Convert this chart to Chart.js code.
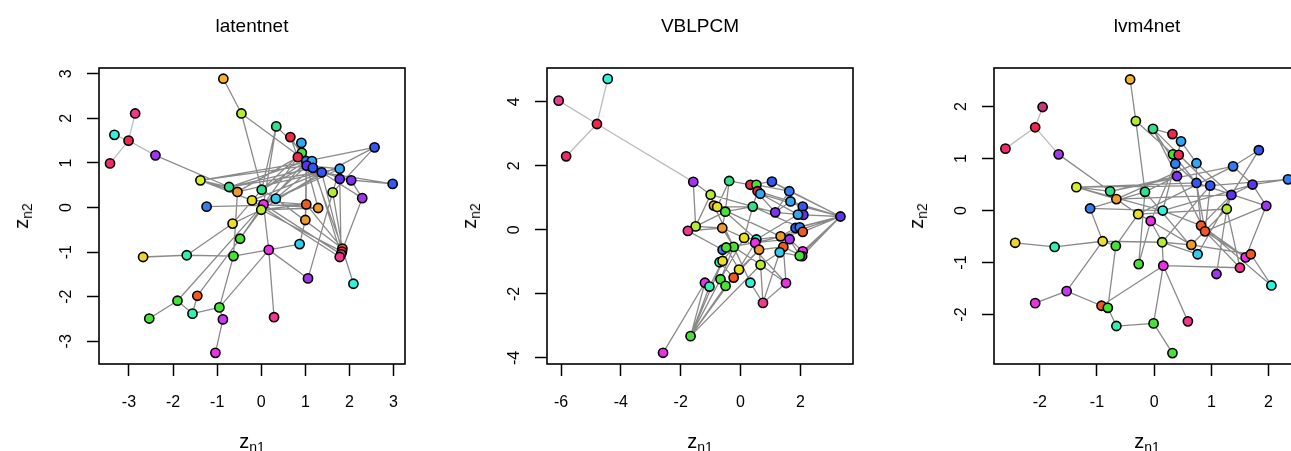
<!DOCTYPE html>
<html>
<head>
<meta charset="utf-8">
<script src="https://cdn.jsdelivr.net/npm/chart.js@4.4.1/dist/chart.umd.min.js"></script>
<style>
  html, body { margin: 0; padding: 0; background: #fff; }
  body { width: 1291px; height: 451px; overflow: hidden; position: relative;
         font-family: 'Liberation Sans', Arial, sans-serif; }
  canvas { position: absolute; top: 0; }
  .lbl { position: absolute; white-space: nowrap; color: #000; line-height: 1;
         transform: translate(-50%, -50%); }
  .main { font-size: 19px; }
  .axt { font-size: 20px; }
  .axt sub { font-size: 14px; line-height: 0; vertical-align: -4px; }
  .rot { transform: translate(-50%, -50%) rotate(-90deg); }
</style>
</head>
<body>
<canvas id="c1" width="420" height="451" style="left:0px"></canvas>
<canvas id="c2" width="420" height="451" style="left:448px"></canvas>
<canvas id="c3" width="420" height="451" style="left:895px"></canvas>
<script>
const FONT = "'Liberation Sans', Arial, sans-serif";

const titles = ['latentnet', 'VBLPCM', 'lvm4net'];

// tick values per panel
const xTicks1 = [-3, -2, -1, 0, 1, 2, 3];
const yTicks1 = [-3, -2, -1, 0, 1, 2, 3];
const xTicks2 = [-6, -4, -2, 0, 2];
const yTicks2 = [-4, -2, 0, 2, 4];
const xTicks3 = [-2, -1, 0, 1, 2];
const yTicks3 = [-2, -1, 0, 1, 2];

// node colours
const PAL = {
  gold: '#F5B32A', gold2: '#F2D22C', ygreen: '#B4EC30', chart: '#D6F021', yellow: '#E9E021',
  pink: '#F2388A', pinkred: '#EE2D68', red: '#F2284A', dmag: '#C8367C',
  cyan: '#30F2DA', sky: '#30CCF2', lblue: '#33A6F2', azure: '#2F7EF2', blue: '#3357F2',
  indigo: '#5C33F0', violet: '#8033F0', purple: '#A236EE', pmag: '#C83AF0', mag: '#EC30E8',
  teal: '#2EE28A', mteal: '#30F0B4', green: '#46E236', orng: '#F09A2C', ored: '#F05A20'
};

// ---- latentnet
const x1 = [-0.86,-0.45,-2.86,-3.33,-3.01,-3.43,-2.40,0.34,0.66,0.91,
  0.92,0.83,1.02,1.15,1.03,1.17,1.37,1.78,1.78,2.04,
  2.57,2.98,2.29,1.62,-1.38,-0.73,-0.54,0.01,-0.21,0.33,
  0.05,0.00,-1.24,1.02,1.29,1.00,-0.65,-0.48,0.87,0.17,
  -1.69,-0.63,-2.68,1.84,1.83,1.81,1.78,1.06,2.09,-1.45,
  -1.90,-0.95,-1.56,-2.54,-0.87,0.29,-1.04];
const y1 = [2.89,2.11,2.11,1.63,1.50,0.99,1.17,1.82,1.58,1.45,
  1.23,1.13,1.04,1.04,0.94,0.89,0.79,0.87,0.64,0.61,
  1.35,0.53,0.21,0.34,0.61,0.46,0.35,0.40,0.16,0.20,
  0.07,-0.05,0.02,0.07,-0.01,-0.28,-0.36,-0.70,-0.82,-0.95,
  -1.07,-1.09,-1.11,-0.92,-0.99,-1.05,-1.11,-1.59,-1.71,-1.98,
  -2.09,-2.24,-2.38,-2.49,-2.51,-2.46,-3.26];
const c1 = ['gold','ygreen','pink','cyan','red','pinkred','purple','teal','red','lblue',
  'green','red','azure','lblue','indigo','blue','blue','lblue','indigo','violet',
  'blue','blue','purple','ygreen','chart','teal','orng','teal','yellow','sky',
  'mag','ygreen','azure','ored','orng','orng','yellow','green','sky','mag',
  'mteal','green','gold2','ored','red','pink','pink','purple','cyan','ored',
  'green','green','mteal','green','pmag','pink','mag'];
const edges1 = [[1,2],[2,28],[2,13],[7,26],[25,26],[25,27],[25,29],[26,13],[26,16],[27,17],
  [25,15],[25,14],[8,28],[8,31],[8,14],[9,13],[10,15],[11,16],[12,31],[21,13],
  [21,24],[21,30],[22,19],[22,17],[23,17],[23,47],[24,48],[24,44],[24,18],[33,34],
  [37,41],[37,28],[41,43],[41,42],[42,40],[42,27],[42,52],[38,31],[38,50],[40,56],
  [40,48],[40,39],[40,52],[40,31],[50,53],[51,53],[53,52],[51,54],[55,57],[52,55],
  [51,31],[49,44],[39,36],[36,34],[36,13],[34,13],[34,44],[34,32],[35,15],[35,32],
  [32,45],[31,46],[30,44],[29,47],[32,13],[31,14],[30,16],[28,13],[28,15],[29,17],
  [32,17],[30,18],[20,23],[18,26],[19,46],[28,30],[29,34],[31,35],[12,27],[11,28],
  [16,44],[17,45],[14,46],[19,13],[15,18],[17,20],[10,13],[9,12],[32,37],[38,32]];
const faint1 = [[3,5],[4,5],[6,5],[5,7]];

// ---- VBLPCM
const x2 = [-4.44,-6.08,-4.80,-5.83,-1.58,-0.38,0.33,0.53,0.57,0.66,
  1.05,1.63,1.67,2.08,2.10,1.92,3.34,1.16,0.41,-1.00,
  -0.89,-0.78,-0.51,-1.50,-1.76,-0.61,0.12,0.53,0.49,0.62,
  1.34,1.64,1.43,1.31,1.84,1.98,2.08,2.08,2.06,1.98,
  -0.23,-0.60,-0.48,-0.70,-0.60,-0.05,-0.23,0.67,-1.19,-1.04,
  -0.67,-0.50,0.33,1.52,0.75,-1.67,-2.59];
const y2 = [4.72,4.04,3.31,2.30,1.50,1.53,1.41,1.41,1.21,1.13,
  1.51,1.21,0.89,0.73,0.47,0.48,0.42,0.55,0.73,1.10,
  0.76,0.72,0.57,0.11,-0.03,0.06,-0.25,-0.30,-0.40,-0.62,
  -0.20,-0.29,-0.53,-0.70,0.06,0.08,-0.06,-0.67,-0.82,-0.81,
  -0.53,-0.62,-0.55,-1.01,-0.97,-1.24,-1.49,-1.09,-1.65,-1.77,
  -1.54,-1.75,-1.65,-1.66,-2.28,-3.32,-3.84];
const c2 = ['cyan','pink','red','pinkred','purple','teal','red','green','red','lblue',
  'blue','azure','lblue','blue','indigo','lblue','indigo','violet','teal','ygreen',
  'orng','yellow','green','ygreen','pink','orng','yellow','cyan','mag','orng',
  'orng','purple','ored','sky','blue','azure','ored','mag','purple','green',
  'green','azure','green','mteal','yellow','yellow','ored','ygreen','mag','mteal',
  'green','green','cyan','mag','pink','green','mag'];
const edges2 = [[5,20],[5,24],[6,7],[6,23],[6,22],[17,11],[17,12],[17,14],[17,15],[17,35],
  [17,37],[17,38],[17,39],[17,40],[17,13],[17,31],[17,36],[11,12],[11,7],[24,20],
  [24,25],[24,26],[24,23],[25,42],[56,49],[56,50],[56,51],[56,52],[56,46],[56,48],
  [56,45],[57,49],[55,53],[55,48],[55,54],[55,34],[53,41],[20,21],[21,22],[22,19],
  [19,9],[19,18],[18,12],[18,13],[26,27],[26,41],[27,28],[28,31],[29,32],[30,33],
  [31,35],[32,38],[33,39],[34,40],[41,48],[42,45],[43,46],[44,47],[46,30],[47,29],
  [48,34],[49,50],[51,27],[52,30],[23,19],[23,28],[21,41],[22,31],[19,36],[10,14],
  [10,16],[8,12],[9,13],[7,18],[27,54],[48,54],[54,33],[30,48],[41,42],[26,23],
  [45,41],[29,37],[28,16],[19,27],[12,13],[14,16],[35,36],[15,18],[32,40],[36,37],
  [25,26],[20,19],[22,23],[43,29],[50,45],[51,41]];
const faint2 = [[1,3],[2,3],[4,3],[3,5]];

// ---- lvm4net
const x3 = [-0.42,-0.32,-1.95,-2.08,-2.60,-1.67,-0.02,0.32,0.47,0.33,
  0.43,0.37,0.74,1.38,1.83,2.34,0.40,0.74,0.98,1.72,
  1.35,1.96,1.27,-1.36,-0.77,-0.66,-0.16,-1.12,-0.28,0.15,
  -0.06,0.82,0.89,0.65,0.76,0.14,-0.90,-0.67,-1.74,-2.43,
  -0.27,0.16,1.09,1.50,1.60,1.69,2.05,-1.53,-2.08,-0.92,
  -0.81,-0.66,-0.01,0.59,0.32];
const y3 = [2.52,1.72,1.99,1.60,1.19,1.08,1.57,1.47,1.33,1.08,
  1.07,0.90,0.91,0.85,1.16,0.60,0.66,0.53,0.48,0.50,
  0.30,0.09,0.03,0.45,0.37,0.22,0.36,0.04,-0.07,0.00,
  -0.20,-0.29,-0.40,-0.66,-0.84,-0.61,-0.59,-0.68,-0.70,-0.62,
  -1.03,-1.06,-1.22,-1.10,-0.90,-0.84,-1.44,-1.55,-1.78,-1.83,
  -1.87,-2.22,-2.17,-2.13,-2.74];
const c3 = ['gold','ygreen','dmag','red','pinkred','purple','teal','red','lblue','green',
  'red','azure','lblue','azure','blue','azure','violet','blue','blue','indigo',
  'indigo','purple','ygreen','chart','teal','orng','teal','azure','yellow','cyan',
  'mag','ored','ored','orng','sky','ygreen','yellow','green','mteal','gold2',
  'green','mag','purple','pink','mag','ored','cyan','pmag','mag','ored',
  'green','mteal','green','pink','green'];
const edges3 = [[1,2],[2,27],[6,25],[24,25],[24,26],[24,18],[24,19],[28,27],[28,30],[7,8],
  [7,33],[7,12],[15,14],[15,21],[16,19],[16,20],[22,20],[22,45],[23,43],[23,44],
  [47,46],[47,32],[40,39],[39,37],[37,38],[37,48],[48,49],[48,50],[50,51],[51,52],
  [52,53],[53,55],[53,42],[42,54],[42,36],[42,50],[38,51],[41,31],[36,35],[36,34],
  [36,37],[29,31],[31,36],[29,26],[30,32],[27,35],[42,44],[32,45],[33,45],[33,44],
  [8,9],[9,13],[10,18],[11,19],[12,17],[13,18],[14,20],[17,27],[18,32],[19,33],
  [20,21],[21,23],[25,14],[26,13],[27,41],[29,23],[30,20],[31,34],[32,21],[33,22],
  [34,23],[35,21],[38,29],[2,10],[7,19],[12,18],[24,30],[25,17],[26,21],[28,37],
  [36,19],[34,46],[41,27],[29,14],[30,9],[31,12],[18,22],[18,33],[13,21]];
const faint3 = [[3,4],[4,5],[4,6]];

// draw the R style box round the plot region
const boxPlugin = {
  id: 'plotBox',
  afterDraw(chart) {
    const a = chart.chartArea, ctx = chart.ctx;
    ctx.save();
    ctx.strokeStyle = '#000';
    ctx.lineWidth = 1.6;
    ctx.strokeRect(a.left, a.top, a.right - a.left, a.bottom - a.top);
    ctx.restore();
  }
};

function segs(pts, list) {
  const out = [];
  list.forEach(([a, b]) => { out.push(pts[a - 1], pts[b - 1], {x: null, y: null}); });
  return out;
}

function axis(range, ticks, vertical) {
  return {
    type: 'linear',
    min: range[0],
    max: range[1],
    afterBuildTicks: s => { s.ticks = ticks.map(v => ({value: v})); },
    afterFit: s => { if (vertical) s.width = 99; else s.height = 87; },
    border: { display: false },
    grid: { drawOnChartArea: false, drawTicks: true, tickLength: 12, tickWidth: 1.5, tickColor: '#000' },
    ticks: {
      color: '#000',
      font: { family: FONT, size: 16 },
      autoSkip: false,
      padding: vertical ? 13 : 17,
      minRotation: vertical ? 90 : 0,
      maxRotation: vertical ? 90 : 0,
      crossAlign: vertical ? 'center' : 'near',
      callback: v => String(v)
    }
  };
}

function addText(html, x, y, cls) {
  const d = document.createElement('div');
  d.className = 'lbl ' + cls;
  d.innerHTML = html;
  d.style.left = x + 'px';
  d.style.top = y + 'px';
  document.body.appendChild(d);
}

function panel(id, offset, title, xs, ys, cols, edges, faint, xr, yr, xt, yt) {
  const pts = xs.map((x, i) => ({x: x, y: ys[i]}));
  const chart = new Chart(document.getElementById(id), {
    type: 'scatter',
    data: {
      datasets: [
        {
          data: pts,
          pointRadius: 4.6,
          pointBackgroundColor: cols.map(k => PAL[k]),
          pointBorderColor: '#000',
          pointBorderWidth: 1.6,
          clip: false,
          order: 0
        },
        {
          type: 'line',
          data: segs(pts, edges),
          borderColor: 'rgba(60,60,60,0.6)',
          borderWidth: 1.3,
          pointRadius: 0,
          spanGaps: false,
          fill: false,
          tension: 0,
          order: 1
        },
        {
          type: 'line',
          data: segs(pts, faint),
          borderColor: 'rgba(160,160,160,0.7)',
          borderWidth: 1.3,
          pointRadius: 0,
          spanGaps: false,
          fill: false,
          tension: 0,
          order: 2
        }
      ]
    },
    options: {
      responsive: false,
      animation: false,
      events: [],
      layout: { padding: { top: 68, right: 15, bottom: 0, left: 0 } },
      scales: {
        x: axis(xr, xt, false),
        y: axis(yr, yt, true)
      },
      plugins: {
        legend: { display: false },
        tooltip: { enabled: false },
        title: { display: false }
      }
    },
    plugins: [boxPlugin]
  });

  const a = chart.chartArea;
  const cx = offset + (a.left + a.right) / 2;
  const cy = (a.top + a.bottom) / 2;
  addText(title, cx, 24.5, 'main');
  addText('z<sub>n1</sub>', cx, 441, 'axt');
  addText('z<sub>n2</sub>', offset + a.left - 78, cy, 'axt rot');
}

panel('c1', 0, titles[0], x1, y1, c1, edges1, faint1, [-3.68, 3.26], [-3.51, 3.13], xTicks1, yTicks1);
panel('c2', 448, titles[1], x2, y2, c2, edges2, faint2, [-6.47, 3.76], [-4.19, 5.06], xTicks2, yTicks2);
panel('c3', 895, titles[2], x3, y3, c3, edges3, faint3, [-2.80, 2.55], [-2.95, 2.74], xTicks3, yTicks3);
</script>
</body>
</html>
